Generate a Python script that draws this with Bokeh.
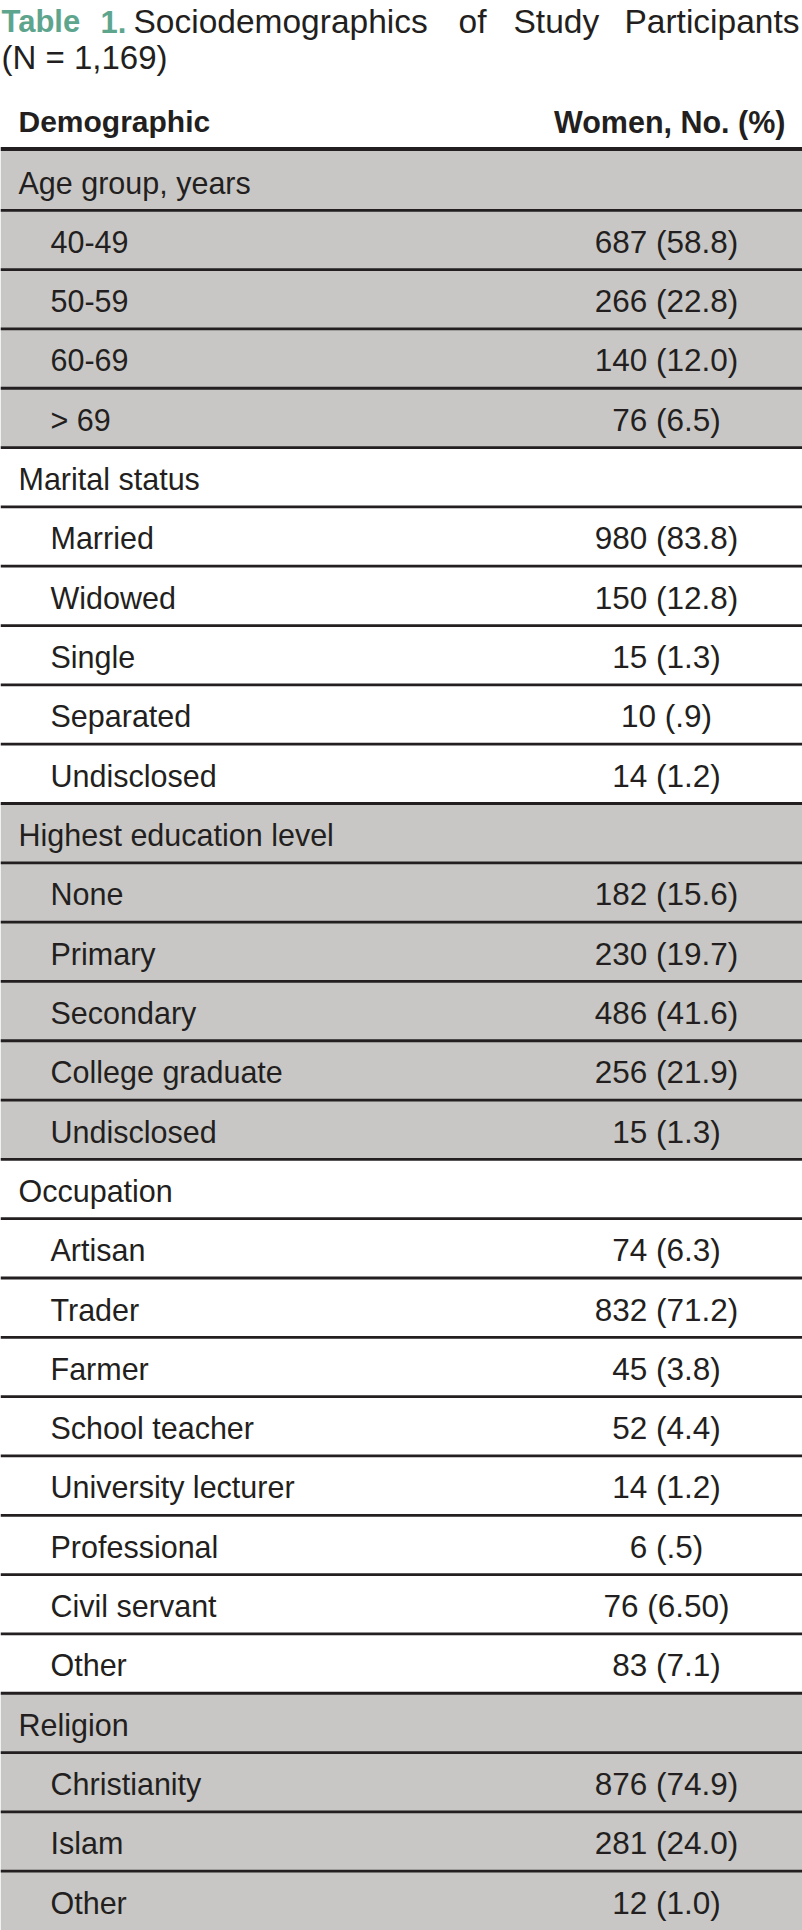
from bokeh.plotting import figure
from bokeh.models import Range1d, ColumnDataSource
from bokeh.core.properties import value
from bokeh.embed import file_html
from bokeh.resources import INLINE

# ---------------- data ----------------
title_label = "Table 1."
title_words = ["Sociodemographics", "of", "Study", "Participants"]
title_line2 = "(N = 1,169)"
col_headers = ["Demographic", "Women, No. (%)"]

groups = ["Age group, years", "Marital status", "Highest education level",
          "Occupation", "Religion"]
items = [
    ["40-49", "50-59", "60-69", "> 69"],
    ["Married", "Widowed", "Single", "Separated", "Undisclosed"],
    ["None", "Primary", "Secondary", "College graduate", "Undisclosed"],
    ["Artisan", "Trader", "Farmer", "School teacher", "University lecturer",
     "Professional", "Civil servant", "Other"],
    ["Christianity", "Islam", "Other"],
]
counts = [
    [687, 266, 140, 76],
    [980, 150, 15, 10, 14],
    [182, 230, 486, 256, 15],
    [74, 832, 45, 52, 14, 6, 76, 83],
    [876, 281, 12],
]
percents = [
    ["58.8", "22.8", "12.0", "6.5"],
    ["83.8", "12.8", "1.3", ".9", "1.2"],
    ["15.6", "19.7", "41.6", "21.9", "1.3"],
    ["6.3", "71.2", "3.8", "4.4", "1.2", ".5", "6.50", "7.1"],
    ["74.9", "24.0", "1.0"],
]
shaded = [True, False, True, False, True]

# ---------------- layout ----------------
W_REF, H_REF = 802, 1930
FIG_W, FIG_H = 802, 1930
S = FIG_W / W_REF
TABLE_TOP = 150.5
X_GROUP, X_ITEM, X_VALUE = 18, 50, 666
DY = -10  # text baseline correction

FONT = value("Liberation Sans")
TEXT_COLOR = "#231f20"
GRAY = "#c8c7c5"
TEAL = "#5ea58e"


def px(sz):
    return f"{sz * S:.1f}px"


rows = []  # (label, value, is_group, shaded)
for g, its, cs, ps, sh in zip(groups, items, counts, percents, shaded):
    rows.append((g, "", True, sh))
    for it, c, pc in zip(its, cs, ps):
        rows.append((it, f"{c} ({pc})", False, sh))

n = len(rows)
ROW_H = (H_REF - TABLE_TOP) / n

tops = [TABLE_TOP + i * ROW_H for i in range(n)]
bottoms = [t + ROW_H for t in tops]

p = figure(width=FIG_W, height=FIG_H, x_range=Range1d(0, W_REF),
           y_range=Range1d(H_REF, 0), output_backend="svg",
           toolbar_location=None, min_border=0, background_fill_color="white",
           border_fill_color="white")
p.axis.visible = False
p.grid.visible = False
p.outline_line_color = None

# shaded backgrounds
sh_src = ColumnDataSource(dict(
    top=[t for t, r in zip(tops, rows) if r[3]],
    bottom=[b for b, r in zip(bottoms, rows) if r[3]],
))
p.quad(left=0, right=W_REF, top="top", bottom="bottom", source=sh_src,
       fill_color=GRAY, line_color=None)

# row separators
sep_y = bottoms[:-1]
p.segment(x0=[0] * len(sep_y), x1=[W_REF] * len(sep_y), y0=sep_y, y1=sep_y,
          line_color=TEXT_COLOR, line_width=2.8 * S)
# header rule
p.segment(x0=[0], x1=[W_REF], y0=[TABLE_TOP - 2], y1=[TABLE_TOP - 2],
          line_color=TEXT_COLOR, line_width=4.2 * S)

# row labels
lab_src = ColumnDataSource(dict(
    x=[X_GROUP if r[2] else X_ITEM for r in rows],
    y=[t + 41.5 + DY for t in tops],
    text=[r[0] for r in rows],
))
p.text(x="x", y="y", text="text", source=lab_src, text_font=FONT,
       text_font_size=px(30.5), text_color=TEXT_COLOR,
       text_baseline="alphabetic", text_align="left")

val_rows = [(t, r[1]) for t, r in zip(tops, rows) if r[1]]
val_src = ColumnDataSource(dict(
    x=[X_VALUE] * len(val_rows),
    y=[t + 41.5 + DY for t, _ in val_rows],
    text=[v for _, v in val_rows],
))
p.text(x="x", y="y", text="text", source=val_src, text_font=FONT,
       text_font_size=px(31.5), text_color=TEXT_COLOR,
       text_baseline="alphabetic", text_align="center")

# column headers
p.text(x=[18], y=[131 + DY], text=[col_headers[0]], text_font=FONT,
       text_font_size=px(30), text_font_style="bold", text_color=TEXT_COLOR,
       text_baseline="alphabetic", text_align="left")
p.text(x=[785], y=[131 + DY], text=[col_headers[1]], text_font=FONT,
       text_font_size=px(30.5), text_font_style="bold", text_color=TEXT_COLOR,
       text_baseline="alphabetic", text_align="right")

# title (justified first line)
T1_Y, T2_Y = 31 + DY, 67 + DY
t_label = title_label.split(" ")
p.text(x=[1, 100], y=[T1_Y] * 2, text=t_label, text_font=FONT,
       text_font_size=px(31), text_font_style="bold", text_color=TEAL,
       text_baseline="alphabetic", text_align="left")
p.text(x=[133, 458, 513], y=[T1_Y] * 3, text=title_words[:3], text_font=FONT,
       text_font_size=px(33.5), text_color=TEXT_COLOR,
       text_baseline="alphabetic", text_align="left")
p.text(x=[799], y=[T1_Y], text=title_words[3:], text_font=FONT,
       text_font_size=px(33.5), text_color=TEXT_COLOR,
       text_baseline="alphabetic", text_align="right")
p.text(x=[1], y=[T2_Y], text=[title_line2], text_font=FONT,
       text_font_size=px(33), text_color=TEXT_COLOR,
       text_baseline="alphabetic", text_align="left")

open("out.html", "w").write(file_html(p, INLINE))
